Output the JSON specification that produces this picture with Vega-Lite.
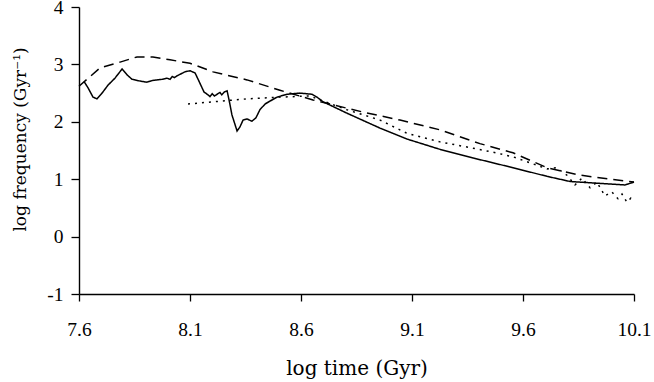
{
  "$schema": "https://vega.github.io/schema/vega-lite/v6.json",
  "width": 555,
  "height": 287,
  "autosize": {"type": "none"},
  "padding": {"left": 79, "top": 7, "right": 20, "bottom": 88},
  "background": "white",
  "config": {
    "view": {"stroke": null},
    "font": "Liberation Serif",
    "axis": {
      "grid": false,
      "domainColor": "black",
      "domainWidth": 1.4,
      "tickColor": "black",
      "tickWidth": 1.3,
      "labelFont": "Liberation Serif",
      "labelFontSize": 19.5,
      "labelColor": "black",
      "titleFont": "DejaVu Serif",
      "titleFontWeight": "normal",
      "titleColor": "black"
    }
  },
  "data": {
    "values": [
      {"s": "a", "x": 7.623, "y": 2.7},
      {"s": "a", "x": 7.641, "y": 2.59},
      {"s": "a", "x": 7.663, "y": 2.43},
      {"s": "a", "x": 7.681, "y": 2.4},
      {"s": "a", "x": 7.704, "y": 2.5},
      {"s": "a", "x": 7.731, "y": 2.64},
      {"s": "a", "x": 7.762, "y": 2.76},
      {"s": "a", "x": 7.794, "y": 2.92},
      {"s": "a", "x": 7.816, "y": 2.82},
      {"s": "a", "x": 7.839, "y": 2.74},
      {"s": "a", "x": 7.875, "y": 2.71},
      {"s": "a", "x": 7.906, "y": 2.69},
      {"s": "a", "x": 7.93, "y": 2.72},
      {"s": "a", "x": 7.951, "y": 2.73},
      {"s": "a", "x": 7.975, "y": 2.74},
      {"s": "a", "x": 7.996, "y": 2.76},
      {"s": "a", "x": 8.01, "y": 2.74},
      {"s": "a", "x": 8.02, "y": 2.79},
      {"s": "a", "x": 8.03, "y": 2.77},
      {"s": "a", "x": 8.041, "y": 2.8},
      {"s": "a", "x": 8.077, "y": 2.87},
      {"s": "a", "x": 8.1, "y": 2.89},
      {"s": "a", "x": 8.123, "y": 2.85},
      {"s": "a", "x": 8.145, "y": 2.67},
      {"s": "a", "x": 8.163, "y": 2.52},
      {"s": "a", "x": 8.181, "y": 2.47},
      {"s": "a", "x": 8.19, "y": 2.44},
      {"s": "a", "x": 8.2, "y": 2.49},
      {"s": "a", "x": 8.21, "y": 2.45},
      {"s": "a", "x": 8.222, "y": 2.48},
      {"s": "a", "x": 8.235, "y": 2.51},
      {"s": "a", "x": 8.243, "y": 2.47},
      {"s": "a", "x": 8.255, "y": 2.52},
      {"s": "a", "x": 8.267, "y": 2.54},
      {"s": "a", "x": 8.276, "y": 2.38},
      {"s": "a", "x": 8.289, "y": 2.12},
      {"s": "a", "x": 8.312, "y": 1.84},
      {"s": "a", "x": 8.325, "y": 1.91},
      {"s": "a", "x": 8.339, "y": 2.03},
      {"s": "a", "x": 8.357, "y": 2.05},
      {"s": "a", "x": 8.379, "y": 2.01},
      {"s": "a", "x": 8.397, "y": 2.07},
      {"s": "a", "x": 8.415, "y": 2.21},
      {"s": "a", "x": 8.438, "y": 2.31},
      {"s": "a", "x": 8.46, "y": 2.36},
      {"s": "a", "x": 8.492, "y": 2.43},
      {"s": "a", "x": 8.537, "y": 2.48},
      {"s": "a", "x": 8.595, "y": 2.5},
      {"s": "a", "x": 8.65, "y": 2.48},
      {"s": "a", "x": 8.672, "y": 2.43},
      {"s": "a", "x": 8.699, "y": 2.35},
      {"s": "a", "x": 8.807, "y": 2.15},
      {"s": "a", "x": 8.956, "y": 1.89},
      {"s": "a", "x": 9.077, "y": 1.7},
      {"s": "a", "x": 9.226, "y": 1.52},
      {"s": "a", "x": 9.375, "y": 1.37},
      {"s": "a", "x": 9.555, "y": 1.2},
      {"s": "a", "x": 9.708, "y": 1.05},
      {"s": "a", "x": 9.812, "y": 0.96},
      {"s": "a", "x": 9.933, "y": 0.93},
      {"s": "a", "x": 10.06, "y": 0.9},
      {"s": "a", "x": 10.1, "y": 0.95},
      {"s": "b", "x": 7.6, "y": 2.62},
      {"s": "b", "x": 7.695, "y": 2.94},
      {"s": "b", "x": 7.785, "y": 3.04},
      {"s": "b", "x": 7.861, "y": 3.13},
      {"s": "b", "x": 7.933, "y": 3.13},
      {"s": "b", "x": 8.01, "y": 3.08},
      {"s": "b", "x": 8.1, "y": 3.02},
      {"s": "b", "x": 8.204, "y": 2.87},
      {"s": "b", "x": 8.357, "y": 2.73},
      {"s": "b", "x": 8.505, "y": 2.55},
      {"s": "b", "x": 8.654, "y": 2.38},
      {"s": "b", "x": 8.879, "y": 2.17},
      {"s": "b", "x": 9.046, "y": 2.03},
      {"s": "b", "x": 9.226, "y": 1.86},
      {"s": "b", "x": 9.406, "y": 1.62},
      {"s": "b", "x": 9.555, "y": 1.46},
      {"s": "b", "x": 9.708, "y": 1.2},
      {"s": "b", "x": 9.857, "y": 1.07},
      {"s": "b", "x": 10.1, "y": 0.95},
      {"s": "c", "x": 8.091, "y": 2.31},
      {"s": "c", "x": 8.357, "y": 2.4},
      {"s": "c", "x": 8.505, "y": 2.43},
      {"s": "c", "x": 8.64, "y": 2.45},
      {"s": "c", "x": 8.686, "y": 2.38},
      {"s": "c", "x": 8.807, "y": 2.21},
      {"s": "c", "x": 8.956, "y": 2.03},
      {"s": "c", "x": 9.077, "y": 1.8},
      {"s": "c", "x": 9.226, "y": 1.65},
      {"s": "c", "x": 9.375, "y": 1.54},
      {"s": "c", "x": 9.465, "y": 1.47},
      {"s": "c", "x": 9.555, "y": 1.39},
      {"s": "c", "x": 9.708, "y": 1.18},
      {"s": "c", "x": 9.75, "y": 1.2},
      {"s": "c", "x": 9.798, "y": 1.07},
      {"s": "c", "x": 9.834, "y": 0.9},
      {"s": "c", "x": 9.866, "y": 1.02},
      {"s": "c", "x": 9.902, "y": 0.85},
      {"s": "c", "x": 9.933, "y": 0.95},
      {"s": "c", "x": 9.969, "y": 0.71},
      {"s": "c", "x": 10.0, "y": 0.78},
      {"s": "c", "x": 10.028, "y": 0.66},
      {"s": "c", "x": 10.046, "y": 0.74},
      {"s": "c", "x": 10.068, "y": 0.6},
      {"s": "c", "x": 10.086, "y": 0.67},
      {"s": "c", "x": 10.1, "y": 0.62}
    ]
  },
  "mark": {"type": "line", "color": "black", "strokeWidth": 1.5},
  "encoding": {
    "x": {
      "field": "x", "type": "quantitative",
      "scale": {"domain": [7.6, 10.1], "nice": false, "zero": false},
      "axis": {"values": [7.6, 8.1, 8.6, 9.1, 9.6, 10.1], "format": ".1f", "title": "log time (Gyr)", "tickSize": 7, "labelPadding": 19, "titleFontSize": 20, "titlePadding": 20, "labelFlush": false}
    },
    "y": {
      "field": "y", "type": "quantitative",
      "scale": {"domain": [-1, 4], "nice": false, "zero": false},
      "axis": {"values": [-1, 0, 1, 2, 3, 4], "format": "d", "labelExpr": "replace(datum.label, '−', '-')", "title": "log frequency (Gyr⁻¹)", "tickSize": 8, "labelPadding": 8, "titleFontSize": 17, "titlePadding": 17, "titleY": 132}
    },
    "detail": {"field": "s"},
    "strokeDash": {
      "field": "s", "type": "nominal", "legend": null,
      "scale": {"domain": ["a", "b", "c"], "range": [[1, 0], [10, 6], [2, 5]]}
    }
  }
}
